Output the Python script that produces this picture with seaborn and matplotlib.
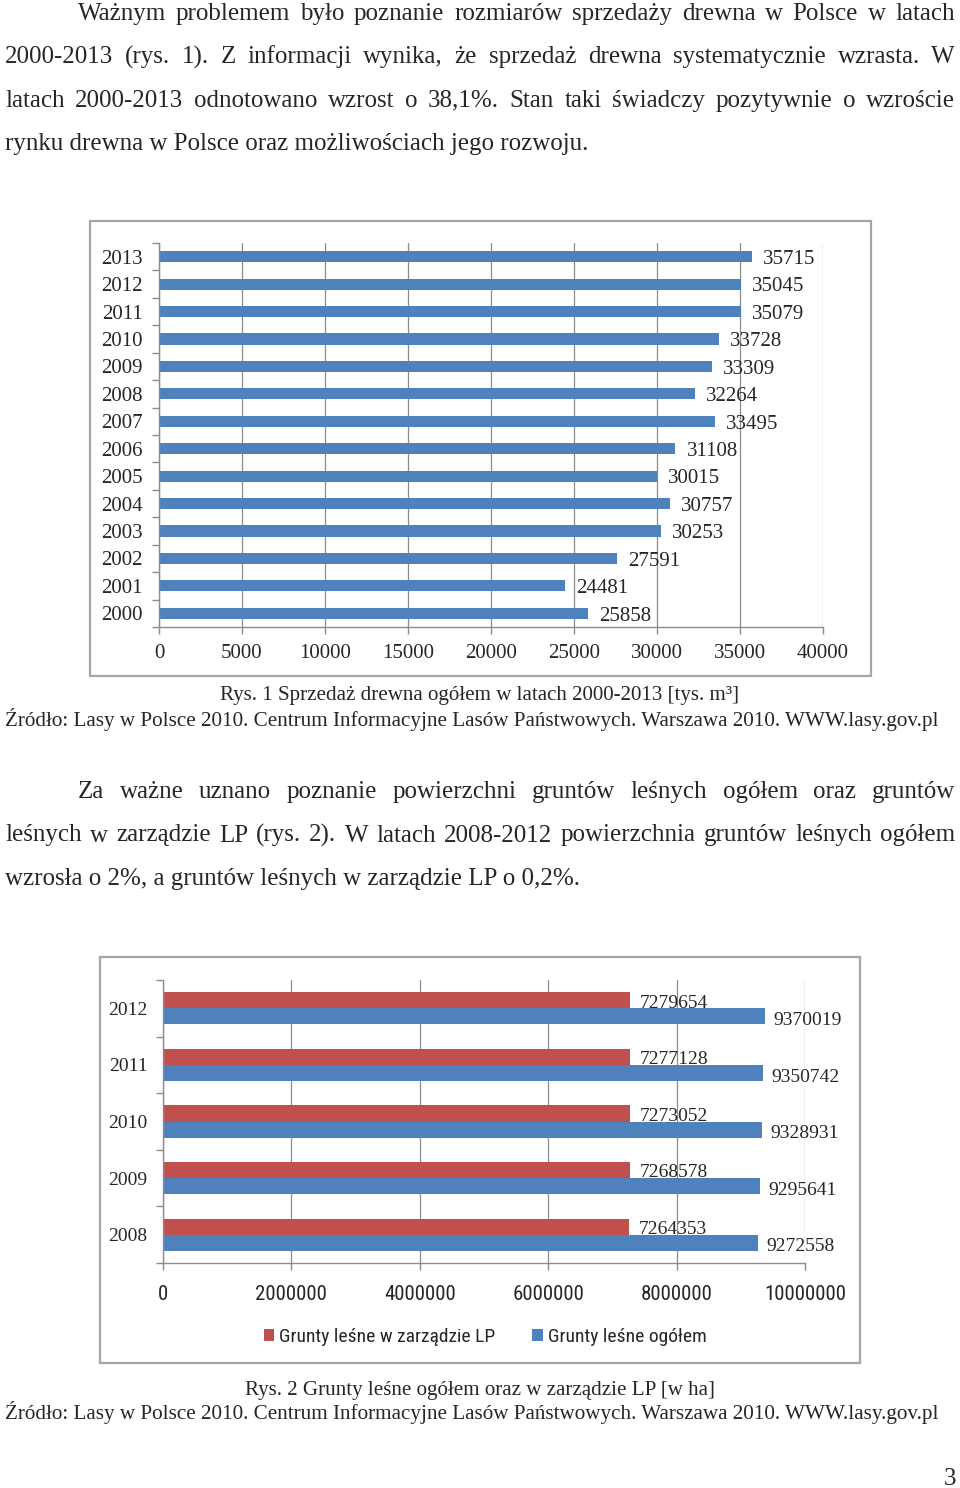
import matplotlib
matplotlib.use("Agg")
import matplotlib.pyplot as plt
import matplotlib.font_manager as fm
from matplotlib.patches import Rectangle
import seaborn as sns
import pandas as pd

# ---------------- data ----------------
lata1 = ["2013", "2012", "2011", "2010", "2009", "2008", "2007",
         "2006", "2005", "2004", "2003", "2002", "2001", "2000"]
sprzedaz = [35715, 35045, 35079, 33728, 33309, 32264, 33495,
            31108, 30015, 30757, 30253, 27591, 24481, 25858]
xticks1 = [0, 5000, 10000, 15000, 20000, 25000, 30000, 35000, 40000]

lata2 = ["2012", "2011", "2010", "2009", "2008"]
grunty_lp = [7279654, 7277128, 7273052, 7268578, 7264353]
grunty_ogolem = [9370019, 9350742, 9328931, 9295641, 9272558]
seria_lp = "Grunty leśne w zarządzie LP"
seria_og = "Grunty leśne ogółem"
xticks2 = [0, 2000000, 4000000, 6000000, 8000000, 10000000]

par1 = [
    "Ważnym problemem było poznanie rozmiarów sprzedaży drewna w Polsce w latach",
    "2000-2013 (rys. 1). Z informacji wynika, że sprzedaż drewna systematycznie wzrasta. W",
    "latach 2000-2013 odnotowano wzrost o 38,1%. Stan taki świadczy pozytywnie o wzroście",
    "rynku drewna w Polsce oraz możliwościach jego rozwoju.",
]
par2 = [
    "Za ważne uznano poznanie powierzchni gruntów leśnych ogółem oraz gruntów",
    "leśnych w zarządzie LP (rys. 2). W latach 2008-2012 powierzchnia gruntów leśnych ogółem",
    "wzrosła o 2%, a gruntów leśnych w zarządzie LP o 0,2%.",
]
cap1 = "Rys. 1 Sprzedaż drewna ogółem w latach 2000-2013 [tys. m³]"
cap2 = "Rys. 2 Grunty leśne ogółem oraz w zarządzie LP [w ha]"
zrodlo = "Źródło: Lasy w Polsce 2010. Centrum Informacyjne Lasów Państwowych. Warszawa 2010. WWW.lasy.gov.pl"

# ---------------- style ----------------
sns.set_style("white")
SERIF = ["Liberation Serif", "DejaVu Serif"]
plt.rcParams["font.family"] = SERIF
available = {f.name for f in fm.fontManager.ttflist}
NARROW = "Liberation Sans"
for cand in ["Liberation Sans Narrow", "Roboto Condensed", "Open Sans Condensed", "Liberation Sans"]:
    if cand in available:
        NARROW = cand
        break

BLUE = "#4F81BD"
RED = "#C0504D"
GRID = "#8c8c8c"

W, H = 960, 1488
fig = plt.figure(figsize=(W / 100, H / 100), dpi=100)
fig.patch.set_facecolor("white")
renderer = fig.canvas.get_renderer()


def fx(x):
    return x / W


def fy(y):
    return 1 - y / H


def measure(s, size, family=SERIF):
    t = fig.text(0, 0, s, fontsize=size, family=family)
    w = t.get_window_extent(renderer).width
    t.remove()
    return w


def put(x, y, s, size, ha="left", family=SERIF):
    fig.text(fx(x), fy(y), s, fontsize=size, family=family, ha=ha, va="baseline")


def fit_size(s, width, family=SERIF, base=16):
    return base * width / measure(s, base, family)


def justify(x0, x1, y, s, size):
    words = s.split(" ")
    widths = [measure(w, size) for w in words]
    gap = (x1 - x0 - sum(widths)) / (len(words) - 1)
    x = x0
    for w, wd in zip(words, widths):
        put(x, y, w, size)
        x += wd + gap


# ---------------- body text ----------------
body_size = fit_size(par1[3], 585)
for i, line in enumerate(par1):
    yb = 20 + i * 43.3
    x0 = 78 if i == 0 else 5
    if i < 3:
        justify(x0, 955, yb, line, body_size)
    else:
        put(x0, yb, line, body_size)

for i, line in enumerate(par2):
    yb = 798 + i * 43.5
    x0 = 78 if i == 0 else 5
    if i < 2:
        justify(x0, 955, yb, line, body_size)
    else:
        put(x0, yb, line, body_size)

cap_size = fit_size(zrodlo, 933)
put(480, 700, cap1, fit_size(cap1, 521), ha="center")
put(5, 726, zrodlo, cap_size)
put(480, 1395, cap2, fit_size(cap2, 470), ha="center")
put(5, 1419, zrodlo, cap_size)
put(956, 1485, "3", body_size, ha="right")

# ---------------- chart boxes ----------------
for (bx0, by0, bx1, by1) in [(90, 221, 871, 676), (100, 957, 860, 1363)]:
    fig.patches.append(Rectangle((fx(bx0), fy(by1)), fx(bx1 - bx0), (by1 - by0) / H,
                                 transform=fig.transFigure, fill=False,
                                 edgecolor="#a5a5a5", linewidth=1.6))


def style_axes(ax, n, ylabel_pad):
    for side in ["top", "right"]:
        ax.spines[side].set_visible(False)
    for side in ["left", "bottom"]:
        ax.spines[side].set_color(GRID)
        ax.spines[side].set_linewidth(1.0)
    ax.grid(axis="x", color=GRID, linewidth=0.9)
    ax.grid(axis="y", visible=False)
    ax.set_axisbelow(True)
    ax.set_xlabel("")
    ax.set_ylabel("")
    ax.set_yticks([i - 0.5 for i in range(n + 1)], minor=True)
    ax.tick_params(axis="y", which="minor", length=5, width=1, color=GRID, direction="out", left=True)
    ax.tick_params(axis="y", which="major", length=0, pad=ylabel_pad, labelsize=15)
    ax.tick_params(axis="x", which="major", length=5, width=1, color=GRID, direction="out", bottom=True)


def shift_labels(anns, dx, dy):
    for a in anns:
        a.xyann = (dx, dy)


# ---------------- chart 1 ----------------
df1 = pd.DataFrame({"rok": lata1, "sprzedaz": sprzedaz})
ax1 = fig.add_axes([fx(159), fy(627), (823 - 159) / W, (627 - 243) / H])
sns.barplot(data=df1, y="rok", x="sprzedaz", order=lata1, color=BLUE,
            saturation=1, width=0.41, linewidth=0, ax=ax1)
ax1.set_xlim(0, 40000)
ax1.set_ylim(len(lata1) - 0.5, -0.5)
ax1.set_xticks(xticks1, [str(v) for v in xticks1])
style_axes(ax1, len(lata1), 11.5)
ax1.tick_params(axis="x", labelsize=15, pad=7)
shift_labels(ax1.bar_label(ax1.containers[0], fmt="%d", padding=8, fontsize=15), 8, -2)

# ---------------- chart 2 ----------------
df2 = pd.DataFrame({
    "rok": lata2 * 2,
    "wartosc": grunty_lp + grunty_ogolem,
    "seria": [seria_lp] * len(lata2) + [seria_og] * len(lata2),
})
ax2 = fig.add_axes([fx(163), fy(1263), (805 - 163) / W, (1263 - 980) / H])
sns.barplot(data=df2, y="rok", x="wartosc", hue="seria", order=lata2,
            hue_order=[seria_lp, seria_og], palette=[RED, BLUE],
            saturation=1, width=0.57, linewidth=0, ax=ax2)
ax2.set_xlim(0, 10000000)
ax2.set_ylim(len(lata2) - 0.5, -0.5)
ax2.set_xticks(xticks2, [str(v) for v in xticks2])
style_axes(ax2, len(lata2), 11)
ax2.tick_params(axis="y", labelsize=14)
ax2.tick_params(axis="x", labelsize=15, pad=11)
for lbl in ax2.get_xticklabels():
    lbl.set_fontfamily(NARROW)
shift_labels(ax2.bar_label(ax2.containers[0], fmt="%d", padding=7, fontsize=14), 7, -2)
shift_labels(ax2.bar_label(ax2.containers[1], fmt="%d", padding=7, fontsize=14), 6, -3)

handles, labels = ax2.get_legend_handles_labels()
if ax2.get_legend() is not None:
    ax2.get_legend().remove()
fig.legend(handles, labels, loc="center", bbox_to_anchor=(fx(485), fy(1337)),
           ncol=2, frameon=False, handlelength=0.55, handleheight=0.55,
           handletextpad=0.25, columnspacing=1.9,
           prop=fm.FontProperties(family=NARROW, size=14))

fig.savefig("out.png", dpi=100, facecolor="white")
